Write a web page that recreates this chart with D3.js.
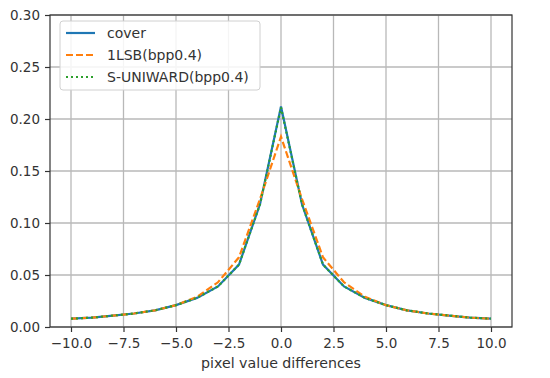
<!DOCTYPE html>
<html>
<head>
<meta charset="utf-8">
<script src="https://cdn.jsdelivr.net/npm/d3@7"></script>
<style>
  body { margin: 0; background: #fff; }
  svg { display: block; font-family: "DejaVu Sans", sans-serif; }
  .grid line { stroke: #b8b8b8; stroke-width: 1.3; }
  .axis path, .axis line { stroke: #333; stroke-width: 1.2; }
</style>
</head>
<body>
<svg id="chart" width="550" height="378"></svg>
<script>
/* global d3 */

// pixel value differences -10 .. 10
const diffs = [-10, -9, -8, -7, -6, -5, -4, -3, -2, -1, 0, 1, 2, 3, 4, 5, 6, 7, 8, 9, 10];

const cover = [0.008, 0.009, 0.011, 0.013, 0.016, 0.021, 0.028, 0.039, 0.060, 0.118, 0.212,
               0.118, 0.060, 0.039, 0.028, 0.021, 0.016, 0.013, 0.011, 0.009, 0.008];
const lsb = [0.008, 0.009, 0.011, 0.013, 0.016, 0.021, 0.029, 0.043, 0.067, 0.123, 0.183,
             0.123, 0.067, 0.043, 0.029, 0.021, 0.016, 0.013, 0.011, 0.009, 0.008];
const suniward = [0.008, 0.009, 0.011, 0.013, 0.016, 0.021, 0.028, 0.039, 0.060, 0.118, 0.211,
                  0.118, 0.060, 0.039, 0.028, 0.021, 0.016, 0.013, 0.011, 0.009, 0.008];

const xTicks = [-10, -7.5, -5, -2.5, 0, 2.5, 5, 7.5, 10];
const yTicks = [0, 0.05, 0.1, 0.15, 0.2, 0.25, 0.3];

const series = [
  { name: "cover", values: cover, color: "#1f77b4", dash: null },
  { name: "1LSB(bpp0.4)", values: lsb, color: "#ff7f0e", dash: "7,3" },
  { name: "S-UNIWARD(bpp0.4)", values: suniward, color: "#2ca02c", dash: "2,3" }
];

const margin = { left: 50, right: 38, top: 15, bottom: 51 };
const width = 550, height = 378;
const svg = d3.select("#chart");

const x = d3.scaleLinear().domain([-11, 11]).range([margin.left, width - margin.right]);
const y = d3.scaleLinear().domain([0, 0.3]).range([height - margin.bottom, margin.top]);

// grid
const grid = svg.append("g").classed("grid", true);
grid.selectAll(".gx").data(xTicks).enter().append("line")
  .attr("x1", d => x(d)).attr("x2", d => x(d))
  .attr("y1", y(0)).attr("y2", y(0.3));
grid.selectAll(".gy").data(yTicks).enter().append("line")
  .attr("x1", x(-11)).attr("x2", x(11))
  .attr("y1", d => y(d)).attr("y2", d => y(d));

// lines
const line = d3.line()
  .x((d, i) => x(diffs[i]))
  .y(d => y(d));

svg.selectAll(".series").data(series).enter().append("path")
  .attr("d", d => line(d.values))
  .attr("fill", "none")
  .attr("stroke", d => d.color)
  .attr("stroke-width", 2.2)
  .attr("stroke-dasharray", d => d.dash);

// axes
svg.append("g").classed("axis", true)
  .attr("transform", `translate(0,${y(0)})`)
  .call(d3.axisBottom(x).tickValues(xTicks).tickSize(5).tickPadding(6)
    .tickFormat(d => d3.format(".1f")(d).replace("-", "\u2212")))
  .attr("font-family", "DejaVu Sans")
  .attr("font-size", 13.5)
  .selectAll("text").attr("fill", "#333");

svg.append("g").classed("axis", true)
  .attr("transform", `translate(${x(-11)},0)`)
  .call(d3.axisLeft(y).tickValues(yTicks).tickSize(5).tickPadding(5)
    .tickFormat(d3.format(".2f")))
  .attr("font-family", "DejaVu Sans")
  .attr("font-size", 13.5)
  .selectAll("text").attr("fill", "#333");

svg.selectAll(".axis .domain").remove();

// frame
svg.append("rect")
  .attr("x", x(-11)).attr("y", y(0.3))
  .attr("width", x(11) - x(-11)).attr("height", y(0) - y(0.3))
  .attr("fill", "none").attr("stroke", "#333").attr("stroke-width", 1.2);

// x label
svg.append("text")
  .attr("x", (x(-11) + x(11)) / 2).attr("y", 368)
  .attr("text-anchor", "middle")
  .style("font-size", "14.2px").style("fill", "#333")
  .text("pixel value differences");

// legend
const legend = svg.append("g").attr("transform", "translate(60,21)");
legend.append("rect")
  .attr("width", 200).attr("height", 69).attr("rx", 3)
  .attr("fill", "#fff").attr("fill-opacity", 0.85)
  .attr("stroke", "#d0d0d0");

const items = legend.selectAll(".item").data(series).enter().append("g")
  .attr("transform", (d, i) => `translate(0,${12 + i * 22})`);
items.append("line")
  .attr("x1", 6).attr("x2", 35)
  .attr("stroke", d => d.color).attr("stroke-width", 2.2)
  .attr("stroke-dasharray", d => d.dash);
items.append("text")
  .attr("x", 47).attr("dy", "0.35em")
  .style("font-size", "14px").style("fill", "#333")
  .text(d => d.name);
</script>
</body>
</html>
